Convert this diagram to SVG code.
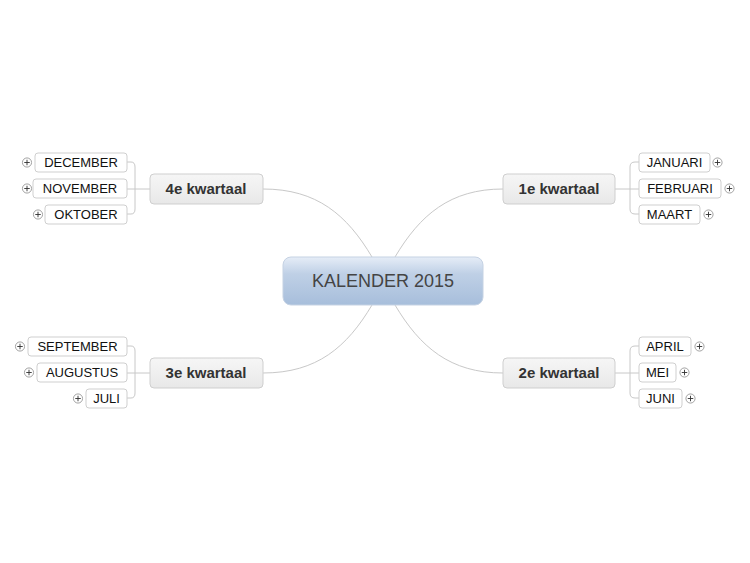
<svg xmlns="http://www.w3.org/2000/svg" width="750" height="563" viewBox="0 0 750 563">
<defs>
<linearGradient id="cg" x1="0" y1="0" x2="0" y2="1">
<stop offset="0" stop-color="#e6edf7"/><stop offset="0.35" stop-color="#bfd0e6"/><stop offset="1" stop-color="#a7bedb"/>
</linearGradient>
<linearGradient id="qg" x1="0" y1="0" x2="0" y2="1">
<stop offset="0" stop-color="#f6f6f6"/><stop offset="1" stop-color="#e8e8e8"/>
</linearGradient>
<symbol id="plus" viewBox="-6 -6 12 12"><circle r="5" fill="#fff" stroke="#999"/><path d="M-3 0H3M0 -3V3" stroke="#333"/></symbol>
</defs>
<style>
.c{fill:none;stroke:#c8c8c8;stroke-width:1}
.q{fill:url(#qg);stroke:#cfcfcf}
.qt{font:bold 15px "Liberation Sans",Arial,sans-serif;fill:#333;text-anchor:middle}
.m{fill:#fff;stroke:#cfcfcf}
.mt{font:13px "Liberation Sans",Arial,sans-serif;fill:#111;text-anchor:middle}
</style>
<rect width="750" height="563" fill="#fff"/>
<g id="connectors">
<path class="c" d="M395 257C420 215 450 189 503 189"/>
<path class="c" d="M372 257C347 215 317 189 263 189"/>
<path class="c" d="M395 305C420 347 450 373 503 373"/>
<path class="c" d="M372 305C347 347 317 373 263 373"/>
<path class="c" d="M615 189H630M639 162H635Q630 162 630 167V209Q630 214 635 214H639M630 189H639"/>
<path class="c" d="M615 373H630M639 346H635Q630 346 630 351V393Q630 398 635 398H639M630 373H639"/>
<path class="c" d="M150 189H135M127 162H131Q135 162 135 167V209Q135 214 131 214H127M135 189H127"/>
<path class="c" d="M150 373H135M127 346H131Q135 346 135 351V393Q135 398 131 398H127M135 373H127"/>
</g>
<g id="center"><rect x="283" y="257" width="200" height="48" rx="8" fill="url(#cg)" stroke="#c5d2e3"/>
<text x="383" y="287" font-family="Liberation Sans,Arial,sans-serif" font-size="18" fill="#444" text-anchor="middle">KALENDER 2015</text></g>
<g id="q1"><rect class="q" x="503" y="174" width="112" height="30" rx="4"/><text class="qt" x="559" y="194">1e kwartaal</text></g>
<g id="q2"><rect class="q" x="503" y="358" width="112" height="30" rx="4"/><text class="qt" x="559" y="378">2e kwartaal</text></g>
<g id="q3"><rect class="q" x="150" y="358" width="113" height="30" rx="4"/><text class="qt" x="206" y="378">3e kwartaal</text></g>
<g id="q4"><rect class="q" x="150" y="174" width="113" height="30" rx="4"/><text class="qt" x="206" y="194">4e kwartaal</text></g>
<g id="jan"><rect class="m" x="639" y="153" width="71" height="19" rx="3"/><text class="mt" x="674.5" y="167">JANUARI</text><use href="#plus" x="712" y="157" width="11" height="11"/></g>
<g id="feb"><rect class="m" x="639" y="179" width="82" height="19" rx="3"/><text class="mt" x="680" y="193">FEBRUARI</text><use href="#plus" x="724" y="183" width="11" height="11"/></g>
<g id="maa"><rect class="m" x="639" y="205" width="61" height="19" rx="3"/><text class="mt" x="669.5" y="219">MAART</text><use href="#plus" x="703" y="209" width="11" height="11"/></g>
<g id="apr"><rect class="m" x="639" y="337" width="52" height="19" rx="3"/><text class="mt" x="665" y="351">APRIL</text><use href="#plus" x="694" y="341" width="11" height="11"/></g>
<g id="mei"><rect class="m" x="639" y="363" width="37" height="19" rx="3"/><text class="mt" x="657.5" y="377">MEI</text><use href="#plus" x="679" y="367" width="11" height="11"/></g>
<g id="jun"><rect class="m" x="639" y="389" width="43" height="19" rx="3"/><text class="mt" x="660.5" y="403">JUNI</text><use href="#plus" x="685" y="393" width="11" height="11"/></g>
<g id="dec"><rect class="m" x="35" y="153" width="92" height="19" rx="3"/><text class="mt" x="81" y="167">DECEMBER</text><use href="#plus" x="21.5" y="157" width="11" height="11"/></g>
<g id="nov"><rect class="m" x="33" y="179" width="94" height="19" rx="3"/><text class="mt" x="80" y="193">NOVEMBER</text><use href="#plus" x="21.5" y="183" width="11" height="11"/></g>
<g id="okt"><rect class="m" x="45" y="205" width="82" height="19" rx="3"/><text class="mt" x="86" y="219">OKTOBER</text><use href="#plus" x="32.5" y="209" width="11" height="11"/></g>
<g id="sep"><rect class="m" x="28" y="337" width="99" height="19" rx="3"/><text class="mt" x="77.5" y="351">SEPTEMBER</text><use href="#plus" x="14.5" y="341" width="11" height="11"/></g>
<g id="aug"><rect class="m" x="37" y="363" width="90" height="19" rx="3"/><text class="mt" x="82" y="377">AUGUSTUS</text><use href="#plus" x="23.5" y="367" width="11" height="11"/></g>
<g id="jul"><rect class="m" x="86" y="389" width="41" height="19" rx="3"/><text class="mt" x="106.5" y="403">JULI</text><use href="#plus" x="72.5" y="393" width="11" height="11"/></g>
</svg>
